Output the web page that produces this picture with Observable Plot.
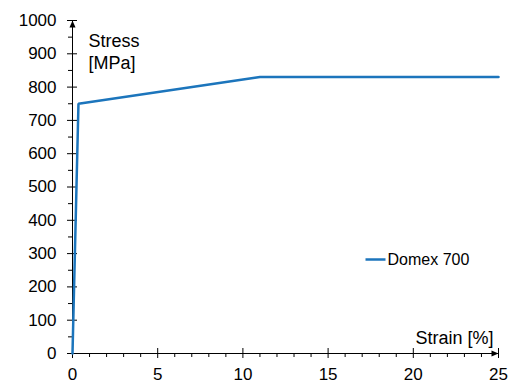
<!DOCTYPE html>
<html>
<head>
<meta charset="utf-8">
<script src="https://cdn.jsdelivr.net/npm/d3@7"></script>
<script src="https://cdn.jsdelivr.net/npm/@observablehq/plot@0.6"></script>
<style>
  html, body { margin: 0; padding: 0; background: #fff; }
  #chart { width: 509px; height: 383px; }
</style>
</head>
<body>
<div id="chart"></div>
<script>
// Data
const strain = [0, 0.35, 11, 25];          // %
const stress = [0, 750, 830, 830];         // MPa
const seriesName = "Domex 700";

// Axis ticks
const xTicks = [0, 5, 10, 15, 20, 25];
const xMinorTicks = [1, 2, 3, 4, 6, 7, 8, 9, 11, 12, 13, 14, 16, 17, 18, 19, 21, 22, 23, 24];
const yTicks = [0, 100, 200, 300, 400, 500, 600, 700, 800, 900, 1000];
const yMinorTicks = [50, 150, 250, 350, 450, 550, 650, 750, 850, 950];
const xDomain = [0, 25];
const yDomain = [0, 1000];

const yTitle = "Stress\n[MPa]";
const xTitle = "Strain [%]";

const lineColor = "#1c75bc";
const FONT = "'Liberation Sans', Arial, Helvetica, sans-serif";

const data = strain.map((s, i) => ({strain: s, stress: stress[i]}));

function arrowHead(color) {
  return d3.create("svg:marker")
    .attr("viewBox", "-8 -5 10 10")
    .attr("markerWidth", 10)
    .attr("markerHeight", 10)
    .attr("markerUnits", "userSpaceOnUse")
    .attr("orient", "auto")
    .attr("fill", "#000")
    .attr("stroke", "none")
    .call(m => m.append("path").attr("d", "M-7,-3L0,0L-7,3Z"))
    .node();
}

const lineSymbol = {
  draw(ctx) { ctx.moveTo(-10, 0); ctx.lineTo(10, 0); }
};

const plain = d => String(d);

const chart = Plot.plot({
  width: 509,
  height: 383,
  marginLeft: 72,
  marginRight: 11,
  marginTop: 20,
  marginBottom: 30,
  style: {fontFamily: FONT, fontSize: "17px", color: "#000", background: "#fff", overflow: "visible"},
  x: {domain: xDomain},
  y: {domain: yDomain},
  marks: [
    // minor ticks
    Plot.axisY(yMinorTicks, {anchor: "left", tickSize: 4, tickFormat: () => "", label: null, stroke: "#000"}),
    Plot.axisX(xMinorTicks, {anchor: "bottom", tickSize: 4, tickFormat: () => "", label: null, stroke: "#000"}),
    // major ticks crossing axis
    Plot.axisY(yTicks, {anchor: "left", tickSize: 10, dx: 5, tickFormat: () => "", label: null, stroke: "#000"}),
    Plot.axisX(xTicks, {anchor: "bottom", tickSize: 10, dy: -5, tickFormat: () => "", label: null, stroke: "#000"}),
    // labels
    Plot.axisY(yTicks, {anchor: "left", tickSize: 0, tickPadding: 16, tickFormat: plain, label: null, fontSize: 17, fill: "#000"}),
    Plot.axisX(xTicks, {anchor: "bottom", tickSize: 0, tickPadding: 14, tickFormat: plain, label: null, fontSize: 17, fill: "#000"}),
    // axis lines with arrows
    Plot.line([{x: xDomain[0], y: yDomain[0]}, {x: xDomain[0], y: yDomain[1]}], {x: "x", y: "y", stroke: "#000", strokeWidth: 1, markerEnd: arrowHead}),
    Plot.line([{x: xDomain[0], y: yDomain[0]}, {x: xDomain[1], y: yDomain[0]}], {x: "x", y: "y", stroke: "#000", strokeWidth: 1, markerEnd: arrowHead}),
    // data
    Plot.line(data, {x: "strain", y: "stress", stroke: lineColor, strokeWidth: 2.5, strokeLinejoin: "miter"}),
    // axis titles
    Plot.text([yTitle], {frameAnchor: "top-left", textAnchor: "start", lineAnchor: "top", dx: 16, dy: 12, fontSize: 18, lineHeight: 1.17, fill: "#000"}),
    Plot.text([xTitle], {frameAnchor: "bottom-right", textAnchor: "end", lineAnchor: "bottom", dx: -5, dy: -10, fontSize: 18, fill: "#000"}),
    // legend
    Plot.dot([seriesName], {frameAnchor: "top-left", dx: 303, dy: 239, symbol: lineSymbol, stroke: lineColor, strokeWidth: 2.5, fill: "none"}),
    Plot.text([seriesName], {frameAnchor: "top-left", textAnchor: "start", lineAnchor: "middle", dx: 315, dy: 239, fontSize: 16, fill: "#000"})
  ]
});

document.getElementById("chart").appendChild(chart);
</script>
</body>
</html>
